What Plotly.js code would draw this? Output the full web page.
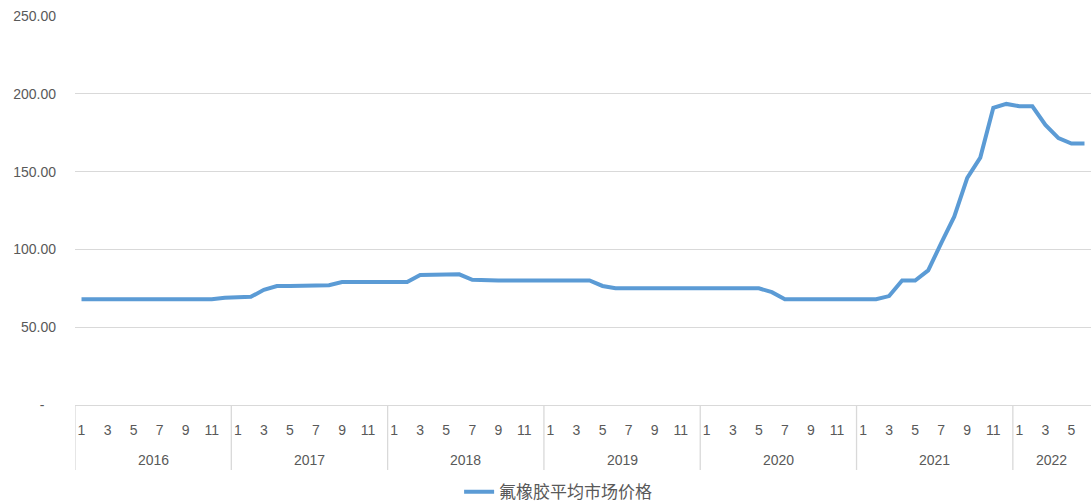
<!DOCTYPE html>
<html>
<head>
<meta charset="utf-8">
<script src="https://cdn.plot.ly/plotly-3.0.1.min.js"></script>
<style>html,body{margin:0;padding:0;background:#fff;}#chart{width:1091px;height:503px;}</style>
</head>
<body>
<div id="chart"></div>
<script>
const years = [2016, 2017, 2018, 2019, 2020, 2021, 2022];
const monthCounts = [12, 12, 12, 12, 12, 12, 6];
const monthTickLabels = ['1', '', '3', '', '5', '', '7', '', '9', '', '11', ''];
const seriesName = '氟橡胶平均市场价格';
const prices = [
  // 2016
  68, 68, 68, 68, 68, 68, 68, 68, 68, 68, 68, 69,
  // 2017
  69.5, 69.5, 74, 76.5, 76.5, 76.5, 76.5, 77, 79, 79, 79, 79,
  // 2018
  79, 79, 83.5, 83.5, 84, 84, 80.5, 80, 80, 80, 80, 80,
  // 2019
  80, 80, 80, 80, 76.5, 75, 75, 75, 75, 75, 75, 75,
  // 2020
  75, 75, 75, 75, 75, 72.5, 68, 68, 68, 68, 68, 68,
  // 2021
  68, 68, 70, 80, 80, 86.5, 104, 121, 146, 159, 191, 193.5,
  // 2022
  192, 192, 180, 171.5, 168, 168
];
const yTickVals = [0, 50, 100, 150, 200, 250];
const yTickText = ['-\u00a0\u00a0\u00a0', '50.00', '100.00', '150.00', '200.00', '250.00'];

// build x positions
const xs = [], tickVals = [], tickText = [], yearStarts = [];
let idx = 0;
years.forEach((y, yi) => {
  yearStarts.push(idx);
  for (let m = 0; m < monthCounts[yi]; m++) {
    xs.push(idx);
    if (monthTickLabels[m] !== '') { tickVals.push(idx); tickText.push(monthTickLabels[m]); }
    idx++;
  }
});
const total = idx;

const textColor = '#595959';
const gridColor = '#d9d9d9';
const axisFont = {family: 'Liberation Sans, Arial, sans-serif', size: 14, color: textColor};

const shapes = yearStarts.map(s => ({
  type: 'line', xref: 'x', yref: 'paper', x0: s - 0.5, x1: s - 0.5, y0: 0, y1: -0.167,
  line: {color: gridColor, width: 1.3}
}));
const annotations = years.map((y, yi) => ({
  xref: 'x', yref: 'paper', x: yearStarts[yi] + (monthCounts[yi] - 1) / 2, y: -0.141,
  yanchor: 'middle', xanchor: 'center', text: String(y), showarrow: false, font: axisFont
}));

const trace = {
  x: xs, y: prices, type: 'scatter', mode: 'lines', name: seriesName,
  line: {color: '#5b9bd5', width: 4}, showlegend: true
};

const layout = {
  width: 1091, height: 503,
  margin: {l: 75, r: 0, t: 16, b: 98, autoexpand: false},
  paper_bgcolor: '#fff', plot_bgcolor: '#fff',
  xaxis: {
    range: [-0.5, total - 0.5], tickvals: tickVals, ticktext: tickText,
    showgrid: false, zeroline: false, showline: true, linecolor: gridColor, linewidth: 1.3,
    ticks: '', ticklabelstandoff: 12, tickfont: axisFont, fixedrange: true, automargin: false
  },
  yaxis: {
    range: [0, 250], tickvals: yTickVals, ticktext: yTickText,
    showgrid: true, gridcolor: gridColor, gridwidth: 1.3, zeroline: false, showline: false,
    ticks: '', ticklabelstandoff: 18, tickfont: axisFont, fixedrange: true, automargin: false
  },
  showlegend: true,
  legend: {
    orientation: 'h', x: 0.4755, xanchor: 'center', y: -0.224, yanchor: 'middle',
    font: {family: 'Noto Sans CJK SC, sans-serif', size: 17, color: textColor}
  },
  shapes: shapes,
  annotations: annotations
};

Plotly.newPlot('chart', [trace], layout, {displayModeBar: false, staticPlot: true});
</script>
</body>
</html>
